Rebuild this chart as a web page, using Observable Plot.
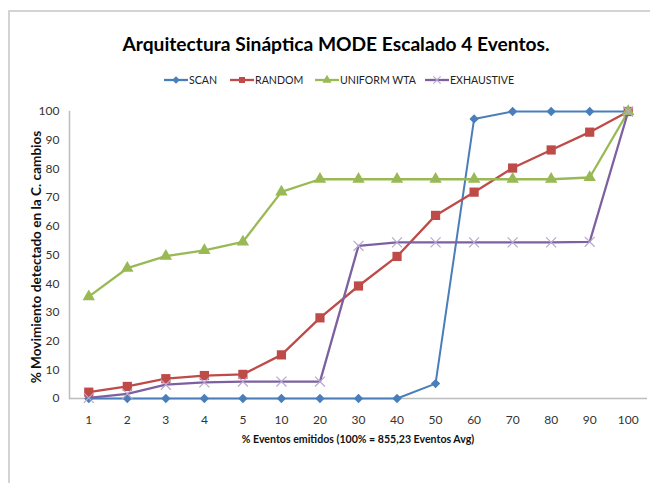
<!DOCTYPE html>
<html>
<head>
<meta charset="utf-8">
<script src="https://cdn.jsdelivr.net/npm/d3@7"></script>
<script src="https://cdn.jsdelivr.net/npm/@observablehq/plot@0.6"></script>
<style>
  body { margin: 0; background: #fff; }
  #wrap { position: relative; width: 650px; height: 483px; overflow: hidden; font-family: Lato, "Noto Sans", sans-serif; }
  #frame { position: absolute; left: 8px; top: 10px; width: 660px; height: 480px; border-top: 2px solid #d4d4d4; border-left: 2px solid #d4d4d4; }
  #title { position: absolute; left: 0; width: 672px; top: 32px; text-align: center; font-size: 19.2px; font-weight: bold; color: #000; }
  #legend { position: absolute; top: 74px; left: 0; width: 650px; height: 14px; font-size: 10.6px; color: #222; }
  #legend .item { position: absolute; top: 0; display: flex; align-items: center; gap: 1px; white-space: nowrap; }
  #ylab { position: absolute; left: 36px; top: 257px; transform: translate(-50%, -50%) rotate(-90deg); white-space: nowrap; font-size: 13.6px; font-weight: bold; color: #111; }
  #xlab { position: absolute; left: 0; width: 716px; top: 433px; text-align: center; font-size: 10.6px; font-weight: bold; color: #111; }
  #chart { position: absolute; left: 0; top: 0; }
</style>
</head>
<body>
<div id="wrap">
  <div id="frame"></div>
  <div id="title">Arquitectura Sináptica MODE Escalado 4 Eventos.</div>
  <div id="legend"></div>
  <div id="ylab">% Movimiento detectado en la C. cambios</div>
  <div id="xlab">% Eventos emitidos (100% = 855,23 Eventos Avg)</div>
  <div id="chart"></div>
</div>
<script>
const categories = ["1","2","3","4","5","10","20","30","40","50","60","70","80","90","100"];
const seriesNames = ["SCAN","RANDOM","UNIFORM WTA","EXHAUSTIVE"];
const scan       = [0, 0, 0, 0, 0, 0, 0, 0, 0, 5.2, 97.4, 100, 100, 100, 100];
const random     = [2.2, 4.2, 6.9, 8.0, 8.4, 15.2, 28.1, 39.2, 49.5, 63.8, 71.9, 80.3, 86.6, 92.8, 100];
const uniformWTA = [35.5, 45.4, 49.6, 51.6, 54.6, 72.0, 76.4, 76.4, 76.4, 76.4, 76.4, 76.4, 76.4, 77.0, 100];
const exhaustive = [0.2, 1.6, 4.8, 5.6, 5.9, 5.9, 5.9, 53.2, 54.4, 54.4, 54.4, 54.4, 54.4, 54.6, 100];
const yTicks = [0,10,20,30,40,50,60,70,80,90,100];

const colors = ["#4a7ebb", "#be4b48", "#98b954", "#7d60a0"];
const symbols = ["diamond2", "square", "triangle", "times"];
const radii = [4.2, 5.2, 4.6, 4.6];
const legendX = [164, 230, 315, 425];

const allSeries = [scan, random, uniformWTA, exhaustive];
const data = [];
allSeries.forEach((vals, s) => vals.forEach((v, i) => data.push({series: seriesNames[s], x: categories[i], y: v})));

const marks = [Plot.ruleY([0], {stroke: "#bdbdbd", strokeWidth: 1.5})];
seriesNames.forEach((name, s) => {
  const d = data.filter(r => r.series === name);
  marks.push(Plot.line(d, {x: "x", y: "y", stroke: colors[s], strokeWidth: name === "SCAN" ? 2 : 2.3}));
});
seriesNames.forEach((name, s) => {
  const d = data.filter(r => r.series === name);
  if (symbols[s] === "times") {
    marks.push(Plot.dot(d, {x: "x", y: "y", symbol: "times", r: radii[s], stroke: "#b8a8cf", strokeWidth: 1.2}));
  } else {
    marks.push(Plot.dot(d, {x: "x", y: "y", symbol: symbols[s], r: radii[s], fill: colors[s], stroke: "none"}));
  }
});

const chart = Plot.plot({
  width: 650,
  height: 483,
  marginLeft: 69,
  marginRight: 3,
  marginTop: 111,
  marginBottom: 85,
  style: {background: "transparent", fontFamily: "Lato, 'Noto Sans', sans-serif", fontSize: "12px", color: "#333"},
  x: {type: "point", domain: categories, padding: 0.5, round: false, label: null},
  y: {domain: [0, 100], label: null},
  marks: [
    ...marks,
    Plot.axisY({ticks: yTicks, tickSize: 0, tickPadding: 10, label: null, fontSize: 12}),
    Plot.axisX({tickSize: 0, tickPadding: 17, label: null, fontSize: 12}),
    Plot.frame({anchor: "left", stroke: "#bdbdbd", strokeWidth: 1.5})
  ]
});
document.getElementById("chart").appendChild(chart);

// legend
const legend = d3.select("#legend");
seriesNames.forEach((name, s) => {
  const item = legend.append("div").attr("class", "item").style("left", legendX[s] + "px");
  const svg = item.append("svg").attr("width", 24).attr("height", 12);
  svg.append("line").attr("x1", 0).attr("x2", 24).attr("y1", 6).attr("y2", 6).attr("stroke", colors[s]).attr("stroke-width", 2.3);
  const sym = {diamond2: d3.symbolDiamond2, square: d3.symbolSquare, triangle: d3.symbolTriangle, times: d3.symbolTimes}[symbols[s]];
  const p = svg.append("path").attr("transform", "translate(12,6)").attr("d", d3.symbol(sym, 36)());
  if (symbols[s] === "times") p.attr("fill", "none").attr("stroke", "#b8a8cf").attr("stroke-width", 1.2);
  else p.attr("fill", colors[s]);
  item.append("span").text(name);
});
</script>
</body>
</html>
